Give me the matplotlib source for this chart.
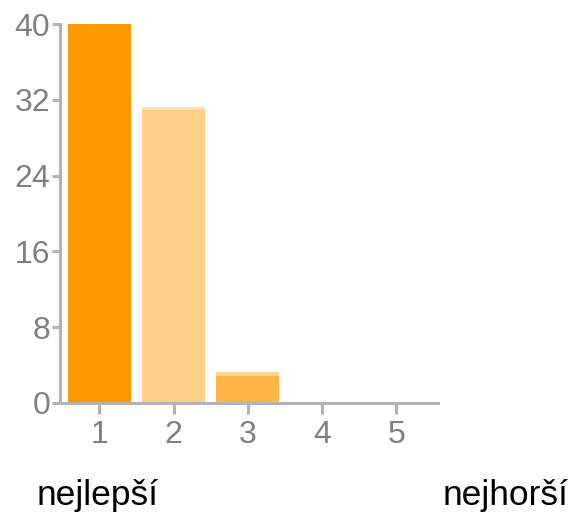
import matplotlib
matplotlib.use("Agg")
import matplotlib.pyplot as plt

plt.rcParams["font.family"] = ["Liberation Sans", "DejaVu Sans"]

categories = ["1", "2", "3", "4", "5"]
counts = [40, 31, 3, 0, 0]
bar_colors = ["#FF9900", "#FDCF87", "#FFB444", "#FFB444", "#FFB444"]
top_colors = ["#FF9900", "#FEE0AE", "#FFD596", "#FFD596", "#FFD596"]
y_ticks = [0, 8, 16, 24, 32, 40]
low_label = "nejlepší"
high_label = "nejhorší"

AXIS = "#B3B3B3"
TEXT = "#808080"

fig = plt.figure(figsize=(5.7, 5.12), dpi=100)
ax = fig.add_axes([60 / 570, 1 - 403 / 512, 378 / 570, 379 / 512])

x = range(len(categories))
ax.bar(x, counts, width=0.85, color=bar_colors, linewidth=0, zorder=2)
# thin lighter strip at the top of each bar
strip = [0.35 if c > 0 and c < max(counts) else 0 for c in counts]
ax.bar(x, strip, bottom=[c - 0.1 for c in counts], width=0.85,
       color=top_colors, linewidth=0, zorder=3)

ax.set_xlim(-0.53, 4.56)
ax.set_ylim(0, 40)
ax.set_xticks(list(x))
ax.set_xticklabels(categories)
ax.set_yticks(y_ticks)

for side in ("top", "right"):
    ax.spines[side].set_visible(False)
for side in ("left", "bottom"):
    ax.spines[side].set_color(AXIS)
    ax.spines[side].set_linewidth(2.2)
ax.spines["bottom"].set_zorder(4)

ax.tick_params(axis="y", colors=AXIS, labelcolor=TEXT, labelsize=23,
               length=6, width=2.2, pad=1)
ax.tick_params(axis="x", colors=AXIS, labelcolor=TEXT, labelsize=23,
               length=8, width=2.2, pad=4)

fig.text(37 / 570, 1 - 495 / 512, low_label, fontsize=25.5, color="black",
         ha="left", va="center")
fig.text(568 / 570, 1 - 495 / 512, high_label, fontsize=25.5, color="black",
         ha="right", va="center")

fig.savefig("out.png", dpi=100)
